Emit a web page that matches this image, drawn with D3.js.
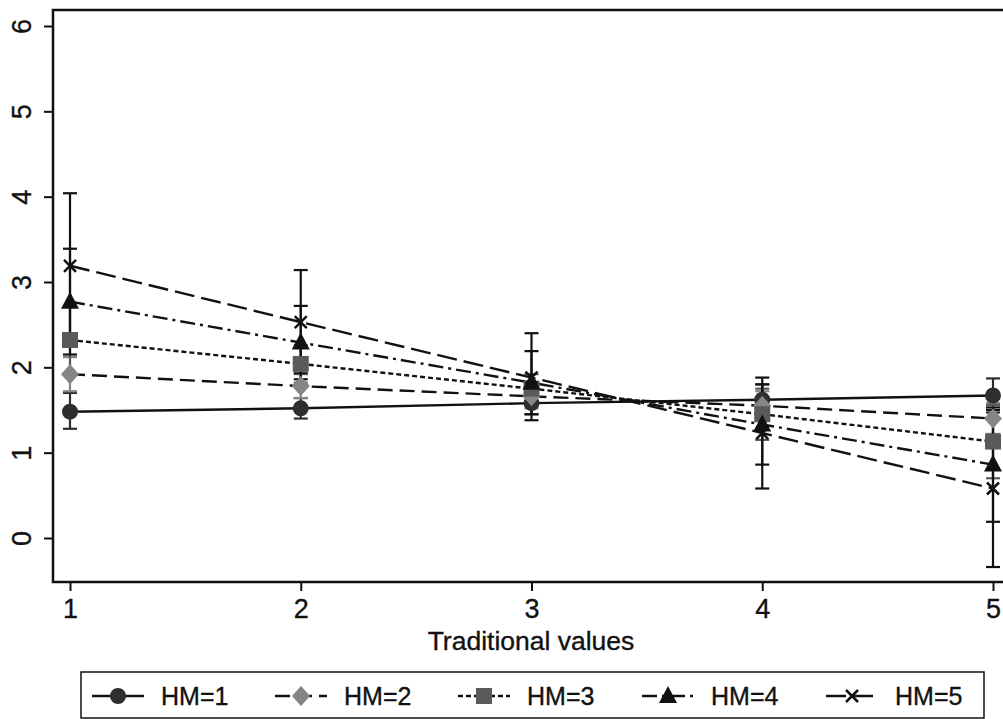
<!DOCTYPE html>
<html>
<head>
<meta charset="utf-8">
<script src="https://cdn.jsdelivr.net/npm/d3@7"></script>
<style>
  body { margin: 0; background: #fff; }
  svg { display: block; font-family: "Liberation Sans", Arial, sans-serif; }
  text { stroke: #111; stroke-width: 0.35px; }
</style>
</head>
<body>
<div class="chartContainer"></div>
<script>
// x categories and y ticks
const xValues = [1, 2, 3, 4, 5];
const yTicks = [0, 1, 2, 3, 4, 5, 6];
const xTitle = "Traditional values";

// predicted margins for each HM level
const seriesNames = ["HM=1", "HM=2", "HM=3", "HM=4", "HM=5"];
const hm1 = [1.48, 1.52, 1.58, 1.62, 1.67];
const hm2 = [1.92, 1.78, 1.66, 1.55, 1.40];
const hm3 = [2.32, 2.04, 1.75, 1.45, 1.13];
const hm4 = [2.77, 2.29, 1.82, 1.33, 0.86];
const hm5 = [3.19, 2.53, 1.88, 1.23, 0.58];

// confidence intervals
const hm1Lo = [1.28, 1.40, 1.45, 1.45, 1.47];
const hm1Hi = [1.70, 1.64, 1.70, 1.80, 1.87];
const hm2Lo = [1.72, 1.64, 1.52, 1.38, 1.22];
const hm2Hi = [2.12, 1.92, 1.80, 1.72, 1.58];
const hm3Lo = [1.92, 1.82, 1.58, 1.15, 0.70];
const hm3Hi = [2.72, 2.26, 1.92, 1.75, 1.56];
const hm4Lo = [2.15, 1.86, 1.45, 0.86, 0.19];
const hm4Hi = [3.39, 2.72, 2.19, 1.80, 1.53];
const hm5Lo = [2.34, 1.93, 1.38, 0.58, -0.34];
const hm5Hi = [4.04, 3.14, 2.40, 1.88, 1.50];

const w = 1003,
  h = 719;

const series = [
  { name: seriesNames[0], v: hm1, lo: hm1Lo, hi: hm1Hi, color: "#2e2e2e", dash: null, sym: "circle" },
  { name: seriesNames[1], v: hm2, lo: hm2Lo, hi: hm2Hi, color: "#858585", dash: "15,7", sym: "diamond" },
  { name: seriesNames[2], v: hm3, lo: hm3Lo, hi: hm3Hi, color: "#5a5a5a", dash: "5,3", sym: "square" },
  { name: seriesNames[3], v: hm4, lo: hm4Lo, hi: hm4Hi, color: "#111111", dash: "15,5,3,5", sym: "triangle" },
  { name: seriesNames[4], v: hm5, lo: hm5Lo, hi: hm5Hi, color: "#111111", dash: "20,7", sym: "x" }
];

let xScale = d3.scaleLinear()
  .domain([1, 5])
  .range([70, 993]);

let yScale = d3.scaleLinear()
  .domain([0, 6])
  .range([538, 26]);

const canvas = d3.select(".chartContainer")
  .append("svg")
  .attr("width", w)
  .attr("height", h);

// plot frame
canvas.append("rect")
  .attr("x", 53)
  .attr("y", 10)
  .attr("width", 960)
  .attr("height", 572)
  .attr("fill", "none")
  .attr("stroke", "#111")
  .attr("stroke-width", 2.5);

// y axis
let yAxis = d3.axisLeft(yScale)
  .tickValues(yTicks)
  .tickSize(9)
  .tickFormat(d3.format("d"));

const yG = canvas.append("g")
  .attr("transform", "translate(53,0)")
  .call(yAxis);
yG.select(".domain").remove();
yG.selectAll(".tick line").attr("stroke", "#111").attr("stroke-width", 2);
yG.selectAll(".tick text")
  .attr("font-size", 27)
  .attr("fill", "#111")
  .attr("font-family", "Liberation Sans, Arial, sans-serif")
  .attr("transform", "rotate(-90)")
  .attr("x", 0)
  .attr("y", -22)
  .attr("dy", 0)
  .attr("text-anchor", "middle");

// x axis
let xAxis = d3.axisBottom(xScale)
  .tickValues(xValues)
  .tickSize(9)
  .tickPadding(8)
  .tickFormat(d3.format("d"));

const xG = canvas.append("g")
  .attr("transform", "translate(0,582)")
  .call(xAxis);
xG.select(".domain").remove();
xG.selectAll(".tick line").attr("stroke", "#111").attr("stroke-width", 2);
xG.selectAll(".tick text")
  .attr("font-size", 27)
  .attr("fill", "#111")
  .attr("font-family", "Liberation Sans, Arial, sans-serif");

canvas.append("text")
  .attr("x", 531)
  .attr("y", 650)
  .attr("text-anchor", "middle")
  .attr("font-size", 26.5)
  .attr("fill", "#111")
  .text(xTitle);

// error bars
series.forEach(function (s) {
  const g = canvas.append("g");
  xValues.forEach(function (xv, i) {
    const x = xScale(xv);
    g.append("line")
      .attr("x1", x).attr("x2", x)
      .attr("y1", yScale(s.lo[i])).attr("y2", yScale(s.hi[i]))
      .attr("stroke", s.color).attr("stroke-width", 2.2);
    [s.lo[i], s.hi[i]].forEach(function (c) {
      g.append("line")
        .attr("x1", x - 7).attr("x2", x + 7)
        .attr("y1", yScale(c)).attr("y2", yScale(c))
        .attr("stroke", s.color).attr("stroke-width", 2.2);
    });
  });
});

// lines
const line = d3.line()
  .x(function (d, i) { return xScale(xValues[i]); })
  .y(function (d) { return yScale(d); });

series.forEach(function (s) {
  canvas.append("path")
    .attr("d", line(s.v))
    .attr("fill", "none")
    .attr("stroke", "#111")
    .attr("stroke-width", 2.4)
    .attr("stroke-dasharray", s.dash);
});

function drawMarker(g, sym, x, y, color) {
  if (sym === "circle") {
    g.append("circle").attr("cx", x).attr("cy", y).attr("r", 8).attr("fill", color);
  } else if (sym === "diamond") {
    g.append("path")
      .attr("d", `M${x},${y - 10}L${x + 9},${y}L${x},${y + 10}L${x - 9},${y}Z`)
      .attr("fill", color);
  } else if (sym === "square") {
    g.append("rect").attr("x", x - 8).attr("y", y - 8).attr("width", 16).attr("height", 16).attr("fill", color);
  } else if (sym === "triangle") {
    g.append("path")
      .attr("d", `M${x},${y - 10}L${x + 9},${y + 7}L${x - 9},${y + 7}Z`)
      .attr("fill", color);
  } else {
    g.append("path")
      .attr("d", `M${x - 6},${y - 6}L${x + 6},${y + 6}M${x - 6},${y + 6}L${x + 6},${y - 6}`)
      .attr("stroke", color).attr("stroke-width", 2.5);
  }
}

// markers
series.forEach(function (s) {
  const g = canvas.append("g");
  s.v.forEach(function (d, i) {
    drawMarker(g, s.sym, xScale(xValues[i]), yScale(d), s.color);
  });
});

// legend
const legend = canvas.append("g");
legend.append("rect")
  .attr("x", 81)
  .attr("y", 672)
  .attr("width", 903)
  .attr("height", 46)
  .attr("fill", "#fff")
  .attr("stroke", "#111")
  .attr("stroke-width", 1.5);

const legendX = [92, 275, 458, 642, 826];
series.forEach(function (s, i) {
  const x0 = legendX[i], yy = 696;
  legend.append("line")
    .attr("x1", x0).attr("x2", x0 + 52)
    .attr("y1", yy).attr("y2", yy)
    .attr("stroke", "#111")
    .attr("stroke-width", 2.4)
    .attr("stroke-dasharray", s.dash);
  drawMarker(legend, s.sym, x0 + 26, yy, s.color);
  legend.append("text")
    .attr("x", x0 + 69)
    .attr("y", yy + 9)
    .attr("font-size", 25)
    .attr("fill", "#111")
    .text(s.name);
});
</script>
</body>
</html>
